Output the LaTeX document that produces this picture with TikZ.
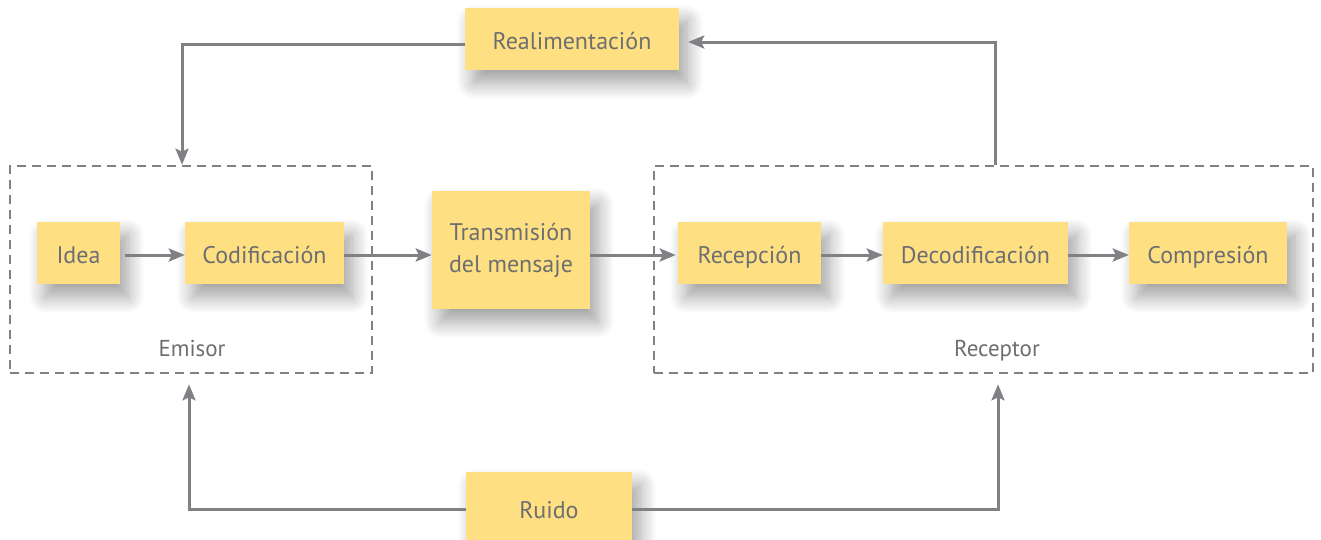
\documentclass[tikz,border=0pt]{standalone}
\usepackage{fontspec}
\setmainfont{PT Sans}
\usetikzlibrary{arrows.meta,shadows.blur,positioning}
\definecolor{boxyellow}{HTML}{FEE082}
\definecolor{linegray}{HTML}{808184}
\definecolor{textgray}{HTML}{6D6E71}
\tikzset{
  ybase/.style={fill=boxyellow, text=textgray, inner sep=0pt, align=center,
    font=\fontsize{24}{32}\selectfont,
    blur shadow={shadow xshift=8pt, shadow yshift=-13pt, shadow blur radius=16pt, shadow blur steps=16, shadow opacity=38}},
  ybox/.style={ybase, text height=24pt, text depth=4pt},
  groupbox/.style={draw=linegray, line width=2.6pt, dash pattern=on 9pt off 6pt, inner sep=0pt},
  conn/.style={draw=linegray, line width=3pt, -{Stealth[length=16pt,width=13pt,inset=3pt]}},
  lbl/.style={text=textgray, font=\fontsize{23}{27}\selectfont, anchor=base},
}
\begin{document}
\begin{tikzpicture}[x=1pt,y=-1pt]
\useasboundingbox (0,0) rectangle (1321,539);
% group frames
\node[groupbox, minimum width=362pt, minimum height=207pt] (emisor) at (191,269.5) {};
\node[groupbox, minimum width=659pt, minimum height=207pt] (receptor) at (983.5,269.5) {};
\node[lbl] (emisorlbl) at (192,356) {Emisor};
\node[lbl] (receptorlbl) at (997,356) {Receptor};
% boxes
\node[ybox, minimum width=214pt, minimum height=62pt] (real) at (572,39) {Realimentación};
\node[ybox, minimum width=83pt, minimum height=62pt] (idea) at (78.5,253) {Idea};
\node[ybox, minimum width=159pt, minimum height=62pt] (cod) at (264.5,253) {Codificación};
\node[ybase, minimum width=158pt, minimum height=118pt] (trans) at (511,250) {Transmisión\\del mensaje};
\node[ybox, minimum width=143pt, minimum height=62pt] (recep) at (749.5,253) {Recepción};
\node[ybox, minimum width=185pt, minimum height=62pt] (decod) at (975.5,253) {Decodificación};
\node[ybox, minimum width=158pt, minimum height=62pt] (comp) at (1208,253) {Compresión};
\node[ybox, minimum width=166pt, minimum height=72pt] (ruido) at (549,508) {Ruido};
% connectors
\draw[conn] ([xshift=5pt,yshift=-2pt]idea.east) -- ([yshift=-2pt]cod.west);
\draw[conn] ([yshift=-2pt]cod.east) -- ([yshift=-5pt]trans.west);
\draw[conn] ([yshift=-5pt]trans.east) -- ([xshift=-2pt,yshift=-2pt]recep.west);
\draw[conn] ([yshift=-2pt]recep.east) -- ([yshift=-2pt]decod.west);
\draw[conn] ([yshift=-2pt]decod.east) -- ([yshift=-2pt]comp.west);
% feedback
\draw[conn] ([yshift=-5pt]real.west) -| ([xshift=-9pt]emisor.north);
\draw[conn] ([xshift=11.5pt]receptor.north) |- ([xshift=9pt,yshift=-3pt]real.east);
% noise
\draw[conn] ([yshift=-1pt]ruido.west) -| ([xshift=-2pt,yshift=-10pt]emisor.south);
\draw[conn] ([yshift=-1pt]ruido.east) -| ([xshift=14.5pt,yshift=-10pt]receptor.south);
\end{tikzpicture}
\end{document}
